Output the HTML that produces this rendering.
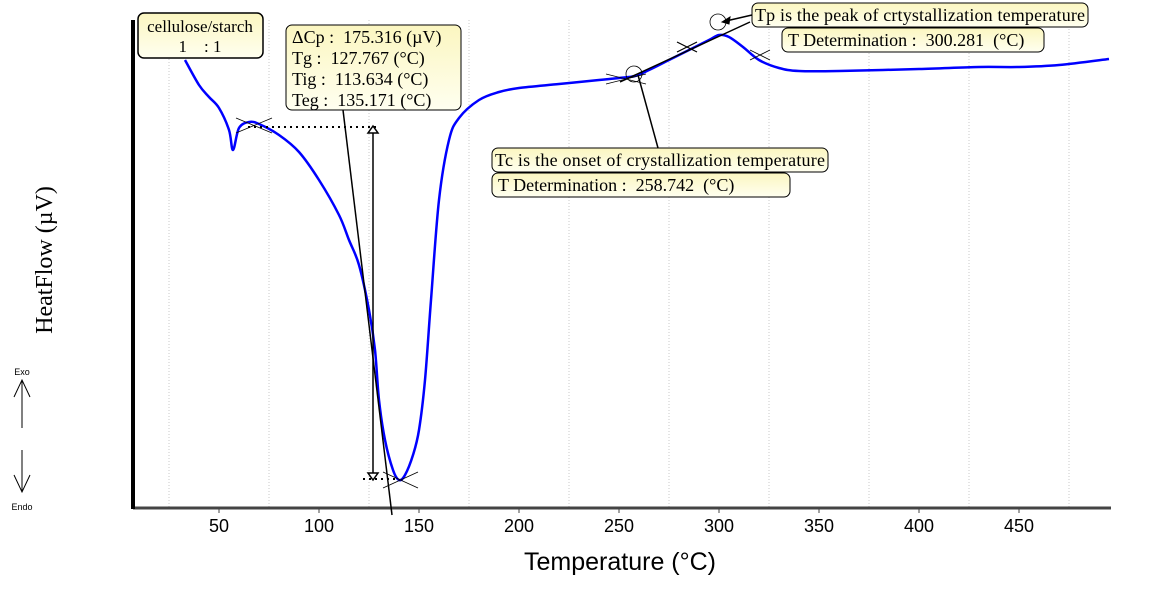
<!DOCTYPE html>
<html><head><meta charset="utf-8">
<style>
html,body{margin:0;padding:0;background:#fff;}
svg{display:block;}
.ser{font-family:"Liberation Serif",serif;}
.san{font-family:"Liberation Sans",sans-serif;}
</style></head>
<body>
<svg id="chart" width="1160" height="591" viewBox="0 0 1160 591">
<defs>
<linearGradient id="bx" x1="0" y1="0" x2="0" y2="1"><stop offset="0" stop-color="#fbf6c0"/><stop offset="1" stop-color="#fffff0"/></linearGradient>
</defs>
<g id="grid"></g>
<g id="xticks"></g>
<line x1="133" y1="508" x2="1111" y2="508" stroke="#444" stroke-width="3"/>
<line x1="133" y1="20" x2="133" y2="509" stroke="#000" stroke-width="4"/>
<path id="curve" fill="none" stroke="#0000ff" stroke-width="2.5"/>

<g stroke="#000" fill="none">
<line x1="248" y1="127" x2="380" y2="127" stroke-dasharray="2,4" stroke-width="2"/>
<line x1="363" y1="479" x2="398" y2="479" stroke-dasharray="2,4" stroke-width="2"/>
<line x1="373" y1="133" x2="373" y2="473" stroke-width="1.5"/>
<path d="M368,133 L378,133 L373,126 Z" fill="#fff" stroke-width="1.5"/>
<path d="M368,473 L378,473 L373,480 Z" fill="#fff" stroke-width="1.5"/>
<line x1="343" y1="110" x2="392" y2="515" stroke-width="1.5"/>
<line x1="236" y1="118" x2="272" y2="133" stroke-width="0.8"/>
<line x1="236" y1="133" x2="272" y2="118" stroke-width="0.8"/>
<line x1="383" y1="472" x2="418" y2="488" stroke-width="0.8"/>
<line x1="383" y1="488" x2="418" y2="472" stroke-width="0.8"/>
</g>
<g stroke="#000" fill="none">
<line x1="620" y1="82" x2="750" y2="22" stroke-width="1.5"/>
<circle cx="634" cy="74" r="8" stroke-width="0.8"/>
<circle cx="718" cy="22" r="8" stroke-width="0.8"/>
<line x1="638" y1="75" x2="658" y2="148" stroke-width="1.5"/>
<line x1="606" y1="74" x2="646" y2="84" stroke-width="0.8"/>
<line x1="606" y1="84" x2="646" y2="74" stroke-width="0.8"/>
<line x1="677" y1="42" x2="697" y2="52" stroke-width="1.2"/>
<line x1="677" y1="52" x2="697" y2="42" stroke-width="1.2"/>
<line x1="750" y1="50" x2="770" y2="60" stroke-width="0.8"/>
<line x1="750" y1="60" x2="770" y2="50" stroke-width="0.8"/>
<line x1="752" y1="15" x2="726" y2="21" stroke-width="1.5"/>
<path d="M722,22 L730,17 L729,24 Z" fill="#000"/>
</g>

<g>
<rect x="138" y="13" width="125" height="45" rx="6" fill="url(#bx)" stroke="#000" stroke-width="1.5"/>
<text x="200" y="32" class="ser" font-size="17" text-anchor="middle">cellulose/starch</text>
<text x="200" y="52" class="ser" font-size="17" text-anchor="middle">1&#160;&#160;&#160;&#160;: 1</text>
</g>
<g>
<rect x="286" y="25" width="175" height="85" rx="6" fill="url(#bx)" stroke="#000" stroke-width="1"/>
<text x="292" y="43" class="ser" font-size="18">ΔCp :&#160;&#160;175.316 (µV)</text>
<text x="292" y="64" class="ser" font-size="18">Tg :&#160;&#160;127.767 (°C)</text>
<text x="292" y="85" class="ser" font-size="18">Tig :&#160;&#160;113.634 (°C)</text>
<text x="292" y="106" class="ser" font-size="18">Teg :&#160;&#160;135.171 (°C)</text>
</g>
<g>
<rect x="492" y="148" width="336" height="24" rx="6" fill="url(#bx)" stroke="#000" stroke-width="1"/>
<text x="495" y="166" class="ser" font-size="18" textLength="330">Tc is the onset of crystallization temperature</text>
<rect x="492" y="173" width="298" height="24" rx="6" fill="url(#bx)" stroke="#000" stroke-width="1"/>
<text x="498" y="191" class="ser" font-size="18">T Determination :&#160;&#160;258.742&#160;&#160;(°C)</text>
</g>
<g>
<rect x="752" y="3" width="336" height="24" rx="6" fill="url(#bx)" stroke="#000" stroke-width="1"/>
<text x="755" y="21" class="ser" font-size="18" textLength="330">Tp is the peak of crtystallization temperature</text>
<rect x="782" y="28" width="262" height="24" rx="6" fill="url(#bx)" stroke="#000" stroke-width="1"/>
<text x="788" y="46" class="ser" font-size="18">T Determination :&#160;&#160;300.281&#160;&#160;(°C)</text>
</g>

<text x="52" y="260" class="ser" font-size="24" text-anchor="middle" transform="rotate(-90 52 260)">HeatFlow (µV)</text>
<text x="620" y="570" class="san" font-size="25" text-anchor="middle">Temperature (°C)</text>
<g stroke="#000" fill="none" stroke-width="1">
<text x="22" y="375" class="san" font-size="9" fill="#000" stroke="none" text-anchor="middle">Exo</text>
<line x1="22" y1="380" x2="22" y2="428"/><polyline points="14,397 22,380 30,397"/>
<line x1="22" y1="450" x2="22" y2="492"/><polyline points="14,475 22,492 30,475"/>
<text x="22" y="510" class="san" font-size="9" fill="#000" stroke="none" text-anchor="middle">Endo</text>
</g>
</svg>
<script>
const temps=[33,40,45,50,55,57,60,65,70,80,90,100,110,115,120,125,128,130,133,137,140,143,147,150,153,156,160,165,170,180,190,200,220,240,250,258,265,275,285,295,300,305,312,320,330,340,360,400,430,450,470,495];
const heatFlow=[448,423,411,400,378,358,380,386,384,373,356,328,293,268,243,198,158,108,68,38,28,33,53,78,128,208,308,368,390,408,416,420,424,428,430,432,438,448,458,468,473,471,461,448,440,437,437,439,441,441,443,449];
const tickLabels=[50,100,150,200,250,300,350,400,450];
const gridTemps=[25,75,125,175,225,275,325,375,425,475];
const NS='http://www.w3.org/2000/svg';
function xS(t){return 119+2*t;}
function yS(v){return 508-v;}
const gridG=document.getElementById('grid');
gridTemps.forEach(t=>{const l=document.createElementNS(NS,'line');


l.setAttribute('x1',xS(t));l.setAttribute('x2',xS(t));l.setAttribute('y1',20);l.setAttribute('y2',507);
l.setAttribute('stroke','#c8c8c8');l.setAttribute('stroke-dasharray','1,2');gridG.appendChild(l);});
const xt=document.getElementById('xticks');
tickLabels.forEach(t=>{const l=document.createElementNS(NS,'line');


l.setAttribute('x1',xS(t));l.setAttribute('x2',xS(t));l.setAttribute('y1',508);l.setAttribute('y2',513);l.setAttribute('stroke','#444');xt.appendChild(l);
const tx=document.createElementNS(NS,'text');


tx.setAttribute('x',xS(t));tx.setAttribute('y',532);tx.setAttribute('text-anchor','middle');tx.setAttribute('font-size','18');
tx.setAttribute('font-family','Liberation Sans, sans-serif');tx.textContent=t;xt.appendChild(tx);});
const pts=temps.map((t,i)=>[xS(t),yS(heatFlow[i])]);
let d='M'+pts[0][0]+','+pts[0][1];
for(let i=0;i<pts.length-1;i++){const p0=pts[Math.max(0,i-1)],p1=pts[i],p2=pts[i+1],p3=pts[Math.min(pts.length-1,i+2)];
const c1x=p1[0]+(p2[0]-p0[0])/6,c1y=p1[1]+(p2[1]-p0[1])/6,c2x=p2[0]-(p3[0]-p1[0])/6,c2y=p2[1]-(p3[1]-p1[1])/6;
d+=' C'+c1x+','+c1y+' '+c2x+','+c2y+' '+p2[0]+','+p2[1];}
document.getElementById('curve').setAttribute('d',d);
</script>
</body></html>
